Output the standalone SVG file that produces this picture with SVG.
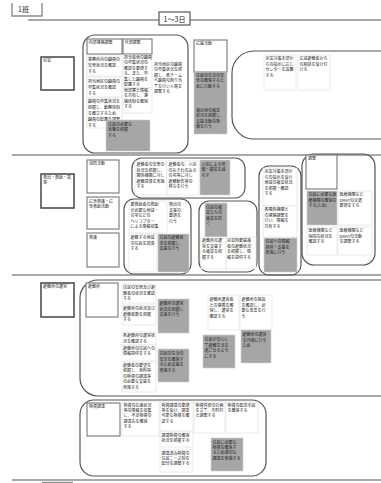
<svg xmlns="http://www.w3.org/2000/svg" width="381" height="483" viewBox="0 0 381 483">
<style>
.ln{stroke:#8c8c8c;stroke-width:1.4;fill:none}
.grp{fill:none;stroke:#555;stroke-width:1.2}
.lbl{fill:#fff;stroke:#444;stroke-width:1.5}
.hdr{fill:#fff;stroke:#777;stroke-width:1.1}
.cell{fill:#fff;stroke:#dedede;stroke-width:0.6}
.gray{fill:#a6a6a6;stroke:#d0d0d0;stroke-width:0.6}
.t{font-family:"Noto Sans CJK JP","Noto Sans CJK SC",sans-serif;font-size:4px;fill:#222}
.big{font-family:"Noto Sans CJK JP","Noto Sans CJK SC",sans-serif;font-size:7px;fill:#222}
</style>
<rect width="381" height="483" fill="#fff"/>
<g id="frame">
<path class="ln" d="M12,3 V16 H42 V3" stroke="#777"/>
<text class="big" x="18" y="12">1班</text>
<line class="ln" x1="28" y1="20" x2="381" y2="20" stroke-width="1.6"/>
<rect x="159" y="12" width="31" height="13" fill="#fff" stroke="#555" stroke-width="1.2"/>
<text class="big" x="174.5" y="21.5" text-anchor="middle">1～3日</text>
<line class="ln" x1="12" y1="155" x2="381" y2="155"/>
<line class="ln" x1="12" y1="275" x2="381" y2="275"/>
<line class="ln" x1="12" y1="480" x2="381" y2="480"/>
<line class="ln" x1="42" y1="482.5" x2="73" y2="482.5" stroke-width="1"/>
</g>

<!-- Row 1 -->
<g id="r1-label"><rect class="lbl" x="41" y="57" width="33" height="33"/><text class="t" x="43" y="62">災害</text></g>
<g id="r1-g1">
<rect class="grp" x="83" y="35" width="105" height="118" rx="12"/>
<rect class="hdr" x="87" y="39" width="35" height="15"/><text class="t" x="88.5" y="44">内部連絡調整</text>
<rect class="hdr" x="123" y="39" width="29" height="15"/><text class="t" x="124.5" y="44">外部調整</text>
<rect class="cell" x="87" y="56" width="35" height="20"/>
<text class="t" x="88" y="61"><tspan>事務所内の職員の</tspan><tspan x="88" dy="6">安否状況を確認</tspan><tspan x="88" dy="6">する</tspan></text>
<rect class="cell" x="87" y="77" width="35" height="20"/>
<text class="t" x="88" y="83"><tspan>担当地区の職員の</tspan><tspan x="88" dy="6">参集状況を確認</tspan><tspan x="88" dy="6">する</tspan></text>
<rect class="cell" x="87" y="98" width="35" height="30"/>
<text class="t" x="88" y="103"><tspan>職員の参集状況を</tspan><tspan x="88" dy="6">把握し、勤務体制</tspan><tspan x="88" dy="6">を確立するため、</tspan><tspan x="88" dy="6">職員の配置を調整</tspan><tspan x="88" dy="6">する</tspan></text>
<rect class="cell" x="123" y="55" width="29" height="33"/>
<text class="t" x="124" y="59"><tspan>担当者他の職員</tspan><tspan x="124" dy="5.4">の参集状況の</tspan><tspan x="124" dy="5.4">確認を要請す</tspan><tspan x="124" dy="5.4">る。また、参</tspan><tspan x="124" dy="5.4">集した職員を</tspan><tspan x="124" dy="5.4">配置する</tspan></text>
<rect class="cell" x="123" y="88" width="29" height="25"/>
<text class="t" x="124" y="92"><tspan>他部署と情報</tspan><tspan x="124" dy="5.4">を共有し、連</tspan><tspan x="124" dy="5.4">絡体制を確保</tspan><tspan x="124" dy="5.4">する</tspan></text>
<text class="t" x="154" y="66"><tspan>担当地区の職員</tspan><tspan x="154" dy="5.4">の参集状況を把</tspan><tspan x="154" dy="5.4">握し、各チーム</tspan><tspan x="154" dy="5.4">へ職員の割り当</tspan><tspan x="154" dy="5.4">てを行い人員を</tspan><tspan x="154" dy="5.4">調整する</tspan></text>
<rect class="gray" x="106" y="120" width="44" height="31"/>
<text class="t" x="108" y="126"><tspan>住民の必要な</tspan><tspan x="108" dy="5.4">状態を把握</tspan><tspan x="108" dy="5.4">する</tspan></text>
</g>
<g id="r1-col-d">
<rect class="hdr" x="194" y="40" width="33" height="32"/><text class="t" x="196" y="45">応援活動</text>
<rect class="gray" x="194" y="72" width="33" height="62"/>
<text class="t" x="196" y="77"><tspan>住民の生活の安</tspan><tspan x="196" dy="5.4">全を確保するた</tspan><tspan x="196" dy="5.4">めに行動する</tspan></text>
<text class="t" x="196" y="112"><tspan>被災地の被害</tspan><tspan x="196" dy="5.4">状況を把握し、</tspan><tspan x="196" dy="5.4">支援活動の準</tspan><tspan x="196" dy="5.4">備を行う</tspan></text>
</g>
<g id="r1-g2">
<path class="grp" d="M381,51 H254 A22,22 0 0 0 232,73 V117 A22,22 0 0 0 254,139 H381"/>
<rect class="cell" x="264" y="55" width="32" height="35"/>
<text class="t" x="265.5" y="60"><tspan>災害対策本部か</tspan><tspan x="265.5" dy="5.6">らの指示に応じ</tspan><tspan x="265.5" dy="5.6">センターを設置</tspan><tspan x="265.5" dy="5.6">する</tspan></text>
<rect class="cell" x="298" y="55" width="32" height="35"/>
<text class="t" x="299.5" y="60"><tspan>広域避難者から</tspan><tspan x="299.5" dy="5.6">の相談を受け付</tspan><tspan x="299.5" dy="5.6">ける</tspan></text>
</g>

<!-- Row 2 -->
<g id="r2-label"><rect class="lbl" x="41" y="174" width="33" height="34"/><text class="t" x="43" y="179"><tspan>救出・救助・誘</tspan><tspan x="43" dy="5.4">導</tspan></text></g>
<g id="r2-left">
<rect class="hdr" x="87" y="160" width="32" height="33"/><text class="t" x="89" y="165">消防活動</text>
<rect class="hdr" x="87" y="197" width="32" height="32"/><text class="t" x="89" y="202.5"><tspan>応急救護・応</tspan><tspan x="89" dy="5.4">急救助活動</tspan></text>
<rect class="hdr" x="87" y="233" width="32" height="34"/><text class="t" x="89" y="238.5">救護</text>
</g>
<g id="r2-g2a">
<rect class="grp" x="132" y="158" width="113" height="40" rx="10"/>
<rect class="cell" x="135" y="161" width="32" height="34"/>
<text class="t" x="136.5" y="166"><tspan>避難者の安否の</tspan><tspan x="136.5" dy="5.5">状況を把握し、</tspan><tspan x="136.5" dy="5.5">関係機関に対し</tspan><tspan x="136.5" dy="5.5">避難誘導を実施</tspan><tspan x="136.5" dy="5.5">する</tspan></text>
<rect class="cell" x="167" y="161" width="32" height="34"/>
<text class="t" x="168.5" y="166"><tspan>避難者の、火災</tspan><tspan x="168.5" dy="5.5">のおそれのある</tspan><tspan x="168.5" dy="5.5">住宅等に対し</tspan><tspan x="168.5" dy="5.5">避難勧告等の</tspan><tspan x="168.5" dy="5.5">発令を行う</tspan></text>
<rect class="gray" x="200" y="160" width="30" height="35"/>
<text class="t" x="201.5" y="165.5"><tspan>火災による死</tspan><tspan x="201.5" dy="5.5">傷・損害を減</tspan><tspan x="201.5" dy="5.5">らす</tspan></text>
</g>
<g id="r2-g2b">
<rect class="grp" x="124" y="199" width="67" height="75" rx="10"/>
<rect class="cell" x="129" y="201" width="38" height="32"/>
<text class="t" x="130.5" y="206"><tspan>要救助者の救助</tspan><tspan x="130.5" dy="5.5">が必要な地域・</tspan><tspan x="130.5" dy="5.5">住宅などの</tspan><tspan x="130.5" dy="5.5">ヘリコプター</tspan><tspan x="130.5" dy="5.5">による情報収集</tspan></text>
<text class="t" x="169" y="206"><tspan>救出の</tspan><tspan x="169" dy="5.5">支援の</tspan><tspan x="169" dy="5.5">要請を</tspan><tspan x="169" dy="5.5">行う</tspan></text>
<rect class="cell" x="129" y="234" width="28" height="38"/>
<text class="t" x="130.5" y="239"><tspan>避難する地域</tspan><tspan x="130.5" dy="5.5">の住民を誘導</tspan><tspan x="130.5" dy="5.5">する</tspan></text>
<rect class="gray" x="158" y="234" width="31" height="38"/>
<text class="t" x="159.5" y="239"><tspan>住民の避難状</tspan><tspan x="159.5" dy="5.5">況を把握し、</tspan><tspan x="159.5" dy="5.5">支援を行う</tspan></text>
</g>
<g id="r2-g2c">
<rect class="grp" x="199" y="201" width="58" height="71" rx="10"/>
<rect class="gray" x="205" y="203" width="22" height="34"/>
<text class="t" x="206" y="208.5"><tspan>住民の被</tspan><tspan x="206" dy="5.5">害たちの</tspan><tspan x="206" dy="5.5">被害を防</tspan><tspan x="206" dy="5.5">ぐ</tspan></text>
<rect class="cell" x="201" y="237" width="25" height="32"/>
<text class="t" x="202" y="242"><tspan>避難所の運</tspan><tspan x="202" dy="5.5">営を支援す</tspan><tspan x="202" dy="5.5">る被害を把</tspan><tspan x="202" dy="5.5">握する</tspan></text>
<rect class="cell" x="226" y="237" width="30" height="32"/>
<text class="t" x="227" y="242"><tspan>災害時要援護</tspan><tspan x="227" dy="5.5">者の避難状況</tspan><tspan x="227" dy="5.5">を把握し、情</tspan><tspan x="227" dy="5.5">報を提供する</tspan></text>
</g>
<g id="r2-g2d">
<rect class="grp" x="259" y="166" width="42" height="109" rx="10"/>
<rect class="cell" x="263" y="168" width="34" height="38"/>
<text class="t" x="264.5" y="173"><tspan>災害対策本部か</tspan><tspan x="264.5" dy="5.5">らの指示を受け</tspan><tspan x="264.5" dy="5.5">地域の被害状況</tspan><tspan x="264.5" dy="5.5">を把握・確認</tspan><tspan x="264.5" dy="5.5">する</tspan></text>
<rect class="cell" x="263" y="206" width="34" height="31"/>
<text class="t" x="264.5" y="211"><tspan>各関係機関と</tspan><tspan x="264.5" dy="5.5">の連絡調整を</tspan><tspan x="264.5" dy="5.5">行い、情報を</tspan><tspan x="264.5" dy="5.5">共有する</tspan></text>
<rect class="gray" x="264" y="238" width="33" height="34"/>
<text class="t" x="265.5" y="243"><tspan>住民への情報</tspan><tspan x="265.5" dy="5.5">提供・支援を</tspan><tspan x="265.5" dy="5.5">実施に行う</tspan></text>
</g>
<g id="r2-g2e">
<rect class="grp" x="302" y="154" width="73" height="111" rx="12"/>
<rect class="hdr" x="306" y="155" width="31" height="34"/>
<text class="t" x="308" y="160">調整</text>
<rect class="gray" x="307" y="191" width="30" height="34"/>
<text class="t" x="308.5" y="196"><tspan>住民に必要な医</tspan><tspan x="308.5" dy="5.5">療機関の確保を</tspan><tspan x="308.5" dy="5.5">する(ため)</tspan></text>
<rect class="cell" x="338" y="191" width="34" height="34"/>
<text class="t" x="339.5" y="196"><tspan>医療機関など</tspan><tspan x="339.5" dy="5.5">DMATの派遣</tspan><tspan x="339.5" dy="5.5">要請をする</tspan></text>
<rect class="cell" x="307" y="227" width="30" height="28"/>
<text class="t" x="308.5" y="232"><tspan>医療機関など</tspan><tspan x="308.5" dy="5.5">病院の状況を</tspan><tspan x="308.5" dy="5.5">確認する</tspan></text>
<rect class="cell" x="338" y="227" width="34" height="28"/>
<text class="t" x="339.5" y="232"><tspan>医療機関など</tspan><tspan x="339.5" dy="5.5">DMATの活動</tspan><tspan x="339.5" dy="5.5">を調整する</tspan></text>
</g>

<!-- Row 3 -->
<g id="r3-label"><rect class="lbl" x="41" y="283" width="33" height="34"/><text class="t" x="43" y="288">避難所の運営</text></g>
<g id="r3-group">
<path class="grp" d="M381,280 H98 A18,18 0 0 0 80,298 V378 A18,18 0 0 0 98,396 H381"/>
<rect class="hdr" x="86" y="283" width="32" height="34"/><text class="t" x="88" y="288">避難所</text>
<rect class="cell" x="122" y="284" width="34" height="19"/>
<text class="t" x="123" y="289"><tspan>住民の安否及び避</tspan><tspan x="123" dy="5.5">難者の状況を確認</tspan><tspan x="123" dy="5.5">する</tspan></text>
<rect class="cell" x="122" y="305" width="34" height="20"/>
<text class="t" x="123" y="310"><tspan>避難所の状況及び</tspan><tspan x="123" dy="5.5">避難者数を把握</tspan><tspan x="123" dy="5.5">する</tspan></text>
<rect class="cell" x="122" y="332" width="34" height="13"/>
<text class="t" x="123" y="337"><tspan>各避難所の運営状</tspan><tspan x="123" dy="5.5">況を確認する</tspan></text>
<rect class="cell" x="122" y="345" width="34" height="16"/>
<text class="t" x="123" y="349.5"><tspan>避難所の住民への</tspan><tspan x="123" dy="5.5">情報提供をする</tspan></text>
<rect class="cell" x="122" y="362" width="34" height="30"/>
<text class="t" x="123" y="366.5"><tspan>避難者の要望を</tspan><tspan x="123" dy="5.5">把握し、食料等</tspan><tspan x="123" dy="5.5">の物資の調達等</tspan><tspan x="123" dy="5.5">の必要な支援を</tspan><tspan x="123" dy="5.5">実施する</tspan></text>
<rect class="gray" x="158" y="299" width="31" height="34"/>
<text class="t" x="159.5" y="305"><tspan>避難所の運営</tspan><tspan x="159.5" dy="5.5">状況を把握し</tspan><tspan x="159.5" dy="5.5">支援を行う</tspan></text>
<rect class="gray" x="158" y="349" width="31" height="33"/>
<text class="t" x="159.5" y="355"><tspan>住民の生活の</tspan><tspan x="159.5" dy="5.5">安定を確保す</tspan><tspan x="159.5" dy="5.5">るため支援を</tspan><tspan x="159.5" dy="5.5">実施する</tspan></text>
<rect class="cell" x="208" y="295" width="31" height="35"/>
<text class="t" x="209.5" y="301"><tspan>避難所運営者</tspan><tspan x="209.5" dy="5.5">との連携を確</tspan><tspan x="209.5" dy="5.5">保し、運営を</tspan><tspan x="209.5" dy="5.5">確認する</tspan></text>
<rect class="cell" x="240" y="295" width="32" height="35"/>
<text class="t" x="241.5" y="301"><tspan>避難所の施設</tspan><tspan x="241.5" dy="5.5">を確認し、必</tspan><tspan x="241.5" dy="5.5">要な改善を行</tspan><tspan x="241.5" dy="5.5">う</tspan></text>
<rect class="gray" x="203" y="335" width="32" height="33"/>
<text class="t" x="204.5" y="341"><tspan>住民が安心し</tspan><tspan x="204.5" dy="5.5">て避難生活を</tspan><tspan x="204.5" dy="5.5">過ごせるよう</tspan><tspan x="204.5" dy="5.5">にする</tspan></text>
<rect class="gray" x="241" y="330" width="30" height="33"/>
<text class="t" x="242.5" y="336"><tspan>避難所の運営</tspan><tspan x="242.5" dy="5.5">を円滑に行う</tspan><tspan x="242.5" dy="5.5">ため</tspan></text>
</g>

<!-- Row 4 -->
<g id="r4-group">
<rect class="grp" x="80" y="400" width="186" height="76" rx="14"/>
<rect class="hdr" x="87" y="403" width="33" height="33"/><text class="t" x="89" y="408">物資調達</text>
<rect class="cell" x="122" y="402" width="37" height="34"/>
<text class="t" x="123.5" y="407"><tspan>物資の在庫状況</tspan><tspan x="123.5" dy="5.2">等の情報を収集</tspan><tspan x="123.5" dy="5.2">し、不足物資の</tspan><tspan x="123.5" dy="5.2">調達先を確保</tspan><tspan x="123.5" dy="5.2">する</tspan></text>
<rect class="cell" x="160" y="402" width="33" height="29"/>
<text class="t" x="161.5" y="407"><tspan>物資調達の要請</tspan><tspan x="161.5" dy="5.2">等を受け、調達</tspan><tspan x="161.5" dy="5.2">可能な物資を確</tspan><tspan x="161.5" dy="5.2">認する</tspan></text>
<rect class="cell" x="160" y="432" width="33" height="15"/>
<text class="t" x="161.5" y="437"><tspan>調達物資の確保</tspan><tspan x="161.5" dy="5.2">状況を把握する</tspan></text>
<rect class="cell" x="160" y="450" width="33" height="22"/>
<text class="t" x="161.5" y="455"><tspan>調達済み物資の</tspan><tspan x="161.5" dy="5.2">住民ニーズ別の</tspan><tspan x="161.5" dy="5.2">配分を調整する</tspan></text>
<rect class="cell" x="194" y="402" width="31" height="31"/>
<text class="t" x="195.5" y="407"><tspan>物資供給の計画</tspan><tspan x="195.5" dy="5.2">を立て、市町村</tspan><tspan x="195.5" dy="5.2">と調整する</tspan></text>
<rect class="cell" x="226" y="402" width="32" height="31"/>
<text class="t" x="227.5" y="407"><tspan>物資の配送手段</tspan><tspan x="227.5" dy="5.2">を確保する</tspan></text>
<rect class="gray" x="211" y="438" width="32" height="33"/>
<text class="t" x="212.5" y="444"><tspan>住民に必要な</tspan><tspan x="212.5" dy="5.2">物資を確保す</tspan><tspan x="212.5" dy="5.2">るため適切な</tspan><tspan x="212.5" dy="5.2">調達を実施する</tspan></text>
</g>
</svg>
